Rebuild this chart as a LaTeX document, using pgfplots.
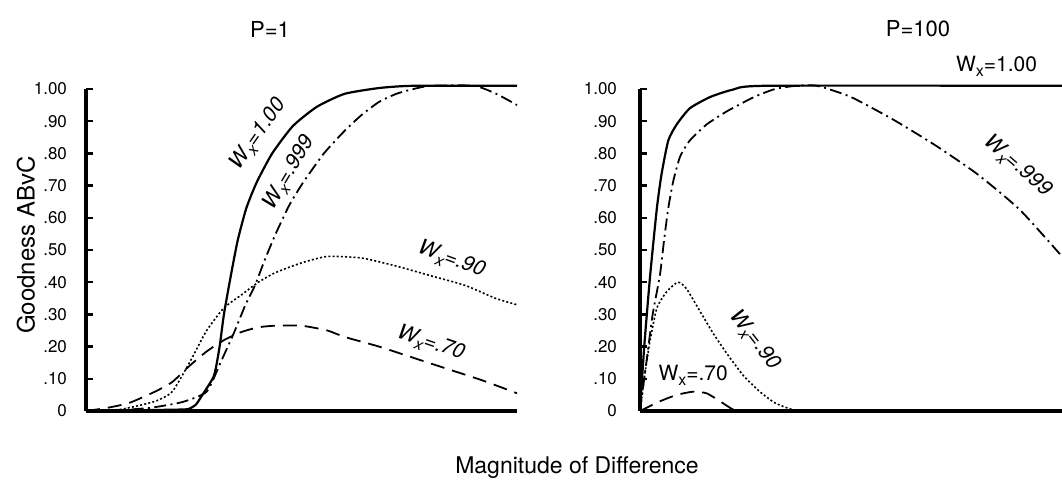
\documentclass[border=0pt]{standalone}
\usepackage{pgfplots}
\pgfplotsset{compat=1.18}
\usepackage{fontspec}
\setmainfont{TeX Gyre Heros}
\newcommand\Wx{W\raisebox{-0.45ex}{\footnotesize x}}
\begin{document}
\begin{tikzpicture}
\tikzset{lab/.style={font=\fontsize{10.5}{11}\selectfont, inner sep=0pt}}
\path[use as bounding box] (0,0) rectangle (531pt,244.5pt);
\pgfplotsset{
  panel/.style={
    scale only axis, anchor=south west,
    height=161pt, xmin=0, xmax=10, ymin=0, ymax=1,
    axis x line=bottom, axis y line=left,
    axis line style={-, line width=1.6pt},
    xtick=\empty,
    ytick={0,0.1,0.2,0.3,0.4,0.5,0.6,0.7,0.8,0.9,1.0},
    yticklabels={0,.10,.20,.30,.40,.50,.60,.70,.80,.90,1.00},
    tick align=inside, major tick length=3.5pt,
    tick style={line width=1.2pt, black},
    y tick label style={font=\fontsize{8.5}{9}\selectfont},
    /pgf/number format/assume math mode=true,
    clip=false,
  },
  c100/.style={black, line width=1.1pt, solid, smooth, tension=0.35},
  c999/.style={black, line width=0.9pt, smooth, tension=0.35, dash pattern=on 6pt off 2.2pt on 1pt off 2.2pt},
  c90/.style={black, line width=0.8pt, smooth, tension=0.35, dash pattern=on 1pt off 1.1pt},
  c70/.style={black, line width=0.9pt, smooth, tension=0.35, dash pattern=on 7pt off 4pt},
}
% ---------------- Left panel: P=1
\begin{axis}[panel, at={(43pt,39pt)}, width=215.5pt,
  y tick label style={xshift=-6pt}]
\addplot[c100] coordinates {(0,0) (1,0.002) (2,0.004) (2.37,0.006) (2.55,0.02) (2.7,0.05) (2.97,0.11) (3.1,0.2) (3.2,0.30) (3.36,0.42) (3.52,0.53) (3.72,0.63) (3.96,0.71) (4.32,0.80) (4.8,0.885) (5.36,0.945) (6.0,0.985) (6.8,1.003) (7.6,1.01) (10,1.01)};
\addplot[c999] coordinates {(0,0) (0.8,0.003) (1.5,0.01) (2.24,0.028) (2.8,0.06) (3.12,0.15) (3.44,0.245) (3.7,0.33) (3.92,0.39) (4.15,0.47) (4.4,0.55) (4.72,0.64) (5.04,0.71) (5.52,0.80) (6.0,0.87) (6.4,0.92) (6.8,0.96) (7.2,0.985) (7.6,1.0) (8.0,1.01) (9.0,1.01) (9.52,0.985) (10,0.95)};
\addplot[c90] coordinates {(0,0) (0.8,0.005) (1.6,0.03) (2.0,0.06) (2.4,0.15) (2.8,0.25) (3.2,0.32) (3.6,0.36) (4.0,0.40) (4.4,0.43) (5.0,0.46) (5.6,0.48) (6.4,0.475) (7.2,0.45) (8.0,0.42) (8.8,0.39) (9.5,0.35) (10,0.33)};
\addplot[c70] coordinates {(0,0) (0.5,0.01) (1.0,0.025) (1.6,0.06) (2.0,0.09) (2.4,0.14) (2.8,0.185) (3.2,0.22) (3.6,0.245) (4.0,0.26) (4.4,0.265) (5.0,0.265) (5.6,0.25) (6.0,0.23) (6.8,0.20) (7.6,0.165) (8.4,0.13) (9.2,0.095) (10,0.055)};
\node[lab, rotate=55] at (axis cs:4.0,0.86) {\itshape\Wx=1.00};
\node[lab, rotate=59] at (axis cs:4.72,0.74) {\itshape\Wx=.999};
\node[lab, rotate=-20] at (axis cs:8.48,0.47) {\itshape\Wx=.90};
\node[lab, rotate=-19] at (axis cs:8.0,0.21) {\itshape\Wx=.70};
\end{axis}
% ---------------- Right panel: P=100
\begin{axis}[panel, at={(320pt,39pt)}, width=211pt,
  y tick label style={xshift=-8pt}]
\addplot[c100] coordinates {(0,0) (0.1,0.2) (0.24,0.42) (0.4,0.63) (0.51,0.735) (0.67,0.84) (0.87,0.89) (1.18,0.94) (1.66,0.975) (2.2,0.998) (3.0,1.01) (10,1.01)};
\addplot[c999] coordinates {(0,0) (0.15,0.15) (0.3,0.3) (0.47,0.42) (0.57,0.53) (0.67,0.63) (0.79,0.715) (0.95,0.79) (1.18,0.84) (1.58,0.89) (2.05,0.93) (2.7,0.975) (3.2,1.0) (3.7,1.01) (4.2,1.01) (5.0,0.975) (6.0,0.905) (7.0,0.825) (8.0,0.735) (9.0,0.625) (10,0.48)};
\addplot[c90] coordinates {(0,0) (0.12,0.12) (0.24,0.22) (0.4,0.32) (0.63,0.37) (0.9,0.40) (1.1,0.38) (1.42,0.31) (1.74,0.24) (2.05,0.18) (2.45,0.11) (2.84,0.06) (3.2,0.025) (3.6,0.005) (4,0) (10,0)};
\addplot[c70] coordinates {(0,0) (0.47,0.03) (0.87,0.05) (1.26,0.06) (1.58,0.055) (1.9,0.03) (2.2,0.005) (2.45,0) (10,0)};
\node[lab] at (axis cs:8.45,1.07) {\Wx=1.00};
\node[lab, rotate=-41] at (axis cs:8.95,0.76) {\itshape\Wx=.999};
\node[lab, rotate=-52] at (axis cs:2.72,0.22) {\itshape\Wx=.90};
\node[lab] at (axis cs:1.26,0.11) {\Wx=.70};
\end{axis}
% titles and labels
\node[font=\fontsize{11}{12}\selectfont] at (135pt,230pt) {P=1};
\node[font=\fontsize{11}{12}\selectfont] at (459pt,230pt) {P=100};
\node[font=\fontsize{11.5}{12}\selectfont] at (288.5pt,10.5pt) {Magnitude of Difference};
\node[font=\fontsize{12}{13}\selectfont, rotate=90] at (13pt,122pt) {Goodness ABvC};
\end{tikzpicture}
\end{document}
